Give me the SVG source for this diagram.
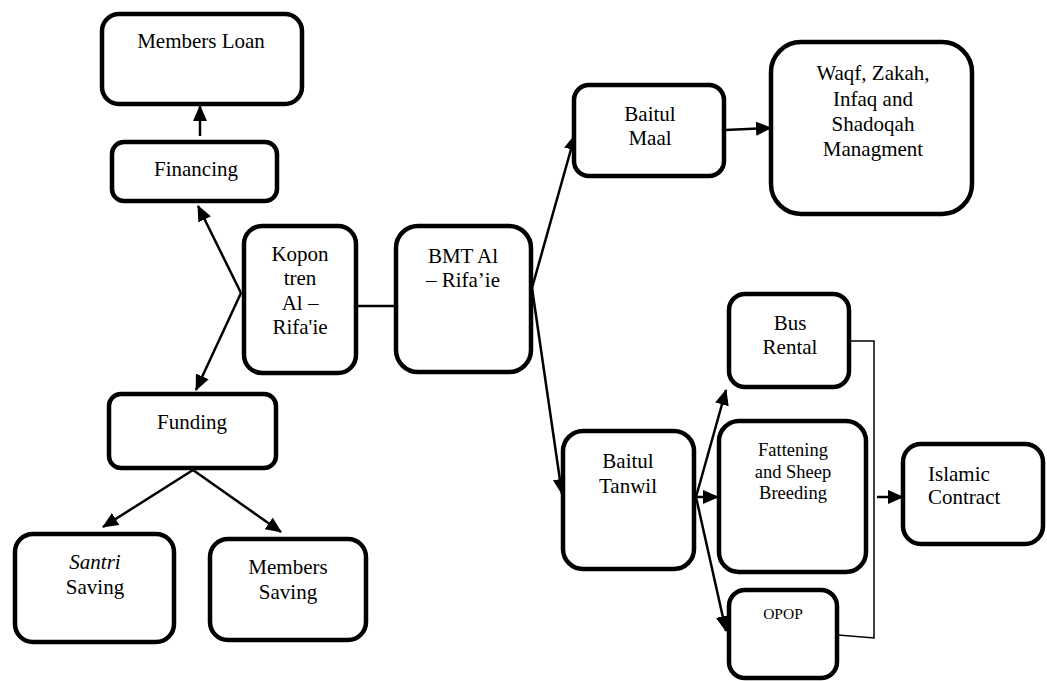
<svg xmlns="http://www.w3.org/2000/svg" width="1047" height="681" viewBox="0 0 1047 681">
<style>
.box{fill:#fff;stroke:#000;stroke-width:4.5}
.t{font-family:"Liberation Serif","Times New Roman",serif;font-size:21px;fill:#000;text-anchor:middle}
.l{text-anchor:start}
.i{font-style:italic}
.s{font-size:18.5px}
.xs{font-size:15.5px}
.c{stroke:#000;stroke-width:2.5;fill:none}
.a{stroke:#000;stroke-width:2.5;fill:none;marker-end:url(#ah)}
.thin{stroke:#000;stroke-width:1.5;fill:none}
</style>
<defs>
<marker id="ah" markerUnits="userSpaceOnUse" markerWidth="16" markerHeight="14" refX="15" refY="7" orient="auto">
<path d="M0,0 L16,7 L0,14 Z" fill="#000"/>
</marker>
</defs>
<rect width="1047" height="681" fill="#fff"/>
<g id="connectors">
<line class="a" x1="200" y1="136" x2="200" y2="106"/>
<line class="a" x1="241" y1="293" x2="198" y2="206"/>
<line class="a" x1="241" y1="293" x2="196" y2="390"/>
<line class="c" x1="357" y1="306" x2="395" y2="306"/>
<line class="a" x1="193" y1="470" x2="103" y2="527"/>
<line class="a" x1="193" y1="470" x2="281" y2="532"/>
<line class="a" x1="532" y1="288" x2="575" y2="135"/>
<line class="a" x1="532" y1="288" x2="562" y2="494"/>
<line class="a" x1="725" y1="130" x2="771" y2="128"/>
<line class="a" x1="696" y1="497" x2="726" y2="390"/>
<line class="a" x1="696" y1="497" x2="718" y2="497"/>
<line class="a" x1="696" y1="497" x2="726" y2="631"/>
<polyline class="thin" points="850,341 874,341 874,638 838,635"/>
<line class="a" x1="877" y1="497" x2="903" y2="497"/>
</g>
<g id="members-loan">
<rect class="box" x="102" y="14" width="200" height="90" rx="17"/>
<text class="t" x="201" y="48">Members Loan</text>
</g>
<g id="financing">
<rect class="box" x="112" y="142" width="165" height="59" rx="12"/>
<text class="t" x="196" y="176">Financing</text>
</g>
<g id="kopontren">
<rect class="box" x="244" y="226" width="112" height="147" rx="18"/>
<text class="t" x="300" y="261">Kopon</text>
<text class="t" x="300" y="285">tren</text>
<text class="t" x="300" y="310">Al –</text>
<text class="t" x="300" y="334">Rifa'ie</text>
</g>
<g id="bmt">
<rect class="box" x="396" y="226" width="135" height="146" rx="22"/>
<text class="t" x="463" y="263">BMT Al</text>
<text class="t" x="463" y="287">– Rifa’ie</text>
</g>
<g id="funding">
<rect class="box" x="109" y="394" width="167" height="74" rx="12"/>
<text class="t" x="192" y="429">Funding</text>
</g>
<g id="santri-saving">
<rect class="box" x="15" y="534" width="159" height="108" rx="18"/>
<text class="t i" x="95" y="569">Santri</text>
<text class="t" x="95" y="594">Saving</text>
</g>
<g id="members-saving">
<rect class="box" x="210" y="539" width="156" height="101" rx="18"/>
<text class="t" x="288" y="574">Members</text>
<text class="t" x="288" y="599">Saving</text>
</g>
<g id="baitul-maal">
<rect class="box" x="574" y="85" width="150" height="91" rx="15"/>
<text class="t" x="650" y="121">Baitul</text>
<text class="t" x="650" y="145">Maal</text>
</g>
<g id="waqf">
<rect class="box" x="771" y="42" width="201" height="172" rx="30"/>
<text class="t" x="873" y="80">Waqf, Zakah,</text>
<text class="t" x="873" y="106">Infaq and</text>
<text class="t" x="873" y="131">Shadoqah</text>
<text class="t" x="873" y="156">Managment</text>
</g>
<g id="baitul-tanwil">
<rect class="box" x="563" y="431" width="131" height="138" rx="20"/>
<text class="t" x="628" y="468">Baitul</text>
<text class="t" x="628" y="493">Tanwil</text>
</g>
<g id="bus-rental">
<rect class="box" x="729" y="294" width="120" height="93" rx="16"/>
<text class="t" x="790" y="330">Bus</text>
<text class="t" x="790" y="354">Rental</text>
</g>
<g id="fattening">
<rect class="box" x="719" y="421" width="147" height="151" rx="20"/>
<text class="t s" x="793" y="456">Fattening</text>
<text class="t s" x="793" y="478">and Sheep</text>
<text class="t s" x="793" y="499">Breeding</text>
</g>
<g id="opop">
<rect class="box" x="729" y="590" width="108" height="88" rx="16"/>
<text class="t xs" x="783" y="619">OPOP</text>
</g>
<g id="islamic-contract">
<rect class="box" x="903" y="444" width="140" height="100" rx="18"/>
<text class="t l" x="928" y="481">Islamic</text>
<text class="t l" x="928" y="504">Contract</text>
</g>
</svg>
